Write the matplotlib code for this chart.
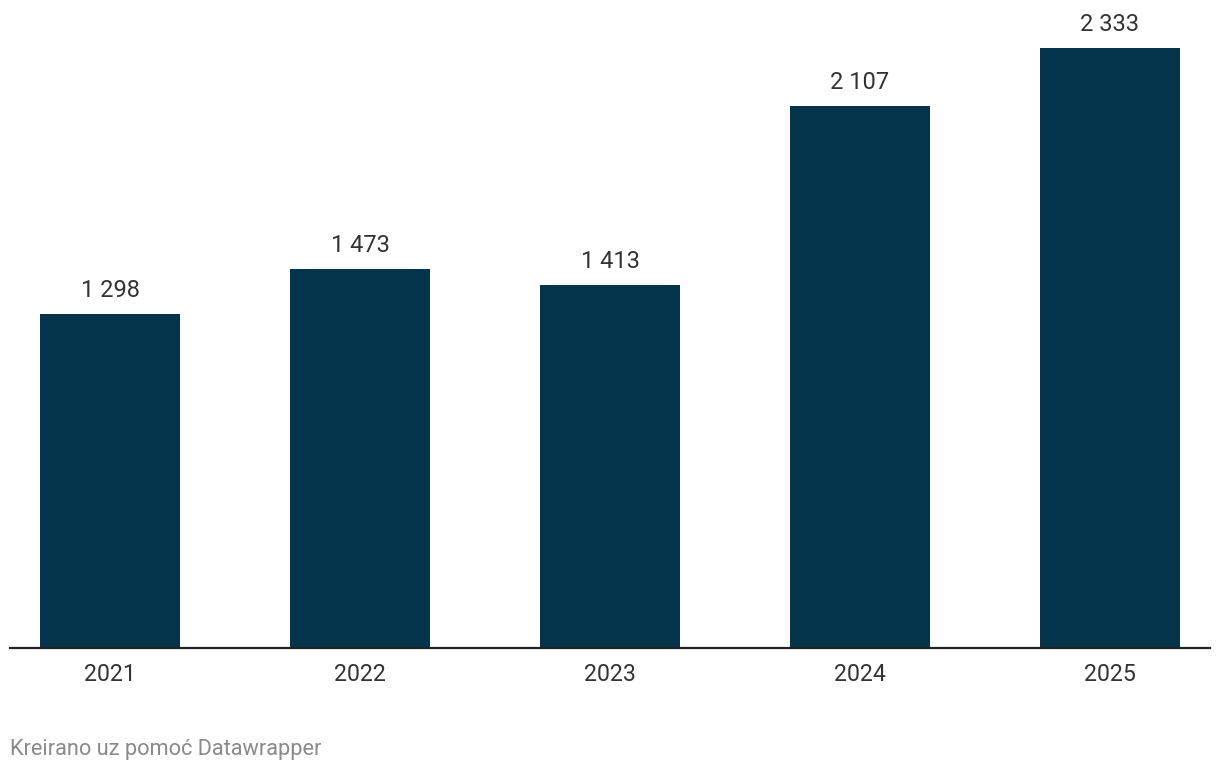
import matplotlib.pyplot as plt

plt.rcParams['font.family'] = ['Roboto', 'DejaVu Sans']

years = ['2021', '2022', '2023', '2024', '2025']
values = [1298, 1473, 1413, 2107, 2333]

BAR_COLOR = '#03344c'
TEXT_COLOR = '#333333'


def fmt(v: int) -> str:
    # thousands separated by a space
    return f"{v:,}".replace(",", " ")


fig = plt.figure(figsize=(12.2, 7.7), dpi=100)
ax = fig.add_axes([10 / 1220, 122 / 770, 1200 / 1220, 643 / 770])

x = range(len(years))
ax.bar(x, values, width=0.56, color=BAR_COLOR, zorder=2)

for xi, v in zip(x, values):
    ax.annotate(fmt(v), (xi, v), xytext=(0, 8.5), textcoords='offset points',
                ha='center', va='bottom', fontsize=17, color=TEXT_COLOR)

ax.set_xlim(-0.4, len(years) - 0.6)
ax.set_ylim(0, 2500)
ax.set_xticks(list(x))
ax.set_xticklabels(years, fontsize=16.7, color=TEXT_COLOR)
ax.tick_params(axis='x', length=0, pad=10.5)
ax.set_yticks([])

for side in ['left', 'right', 'top']:
    ax.spines[side].set_visible(False)
ax.spines['bottom'].set_color('#222222')
ax.spines['bottom'].set_linewidth(1.6)
ax.spines['bottom'].set_zorder(3)

fig.text(10 / 1220, 1 - 749 / 770, "Kreirano uz pomoć Datawrapper",
         ha='left', va='center', fontsize=15.7, color='#8a8a8a')

fig.savefig('out.png', dpi=100)
